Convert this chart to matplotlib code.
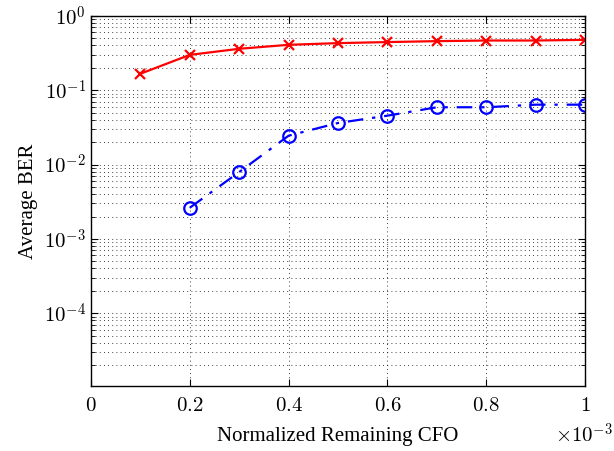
import numpy as np
import matplotlib
matplotlib.use("Agg")
import matplotlib.pyplot as plt
from matplotlib.ticker import FixedLocator, LogLocator, NullFormatter

plt.rcParams["font.family"] = ["Liberation Serif", "DejaVu Serif"]
plt.rcParams["mathtext.fontset"] = "cm"

# data (x in units of 1e-3)
cfo_red = [0.1, 0.2, 0.3, 0.4, 0.5, 0.6, 0.7, 0.8, 0.9, 1.0]
ber_red = [0.166, 0.298, 0.36, 0.407, 0.429, 0.443, 0.456, 0.465, 0.465, 0.475]
cfo_blue = [0.2, 0.3, 0.4, 0.5, 0.6, 0.7, 0.8, 0.9, 1.0]
ber_blue = [0.00262, 0.00792, 0.0244, 0.0362, 0.0454, 0.0589, 0.0589, 0.0638, 0.0638]
xticks = [0, 0.2, 0.4, 0.6, 0.8, 1.0]
xtick_labels = ["$0$", "$0.2$", "$0.4$", "$0.6$", "$0.8$", "$1$"]
yticks = [1e0, 1e-1, 1e-2, 1e-3, 1e-4]
ytick_labels = ["$10^{0}$", "$10^{-1}$", "$10^{-2}$", "$10^{-3}$", "$10^{-4}$"]

fig = plt.figure(figsize=(6.14, 4.51), dpi=100)
ax = fig.add_axes([0.148, 0.144, 0.805, 0.821])

ax.semilogy(cfo_red, ber_red, "-x", color="red", lw=1.6, ms=7, mew=1.6)
ax.semilogy(cfo_blue, ber_blue, "-.o", color="blue", lw=1.6, ms=9, mew=1.6,
            mfc="none", dashes=(7, 4, 1.5, 4))

ax.set_xlim(0, 1)
ax.set_ylim(1.05e-5, 1)
ax.set_xticks(xticks)
ax.set_xticklabels(xtick_labels, fontsize=15)
ax.yaxis.set_major_locator(FixedLocator(yticks))
ax.set_yticklabels(ytick_labels, fontsize=15)
ax.yaxis.set_minor_locator(LogLocator(base=10, subs=np.arange(2, 10)))
ax.yaxis.set_minor_formatter(NullFormatter())

ax.grid(True, which="major", axis="x", color="black", ls=(0, (1, 4)), lw=0.6)
ax.grid(True, which="both", axis="y", color="black", ls=(0, (1, 4)), lw=0.6)
ax.tick_params(which="both", direction="in", top=True, right=True)
ax.tick_params(which="major", length=5)
ax.tick_params(which="minor", length=3)
ax.tick_params(axis="x", pad=8)
for s in ax.spines.values():
    s.set_linewidth(1.0)

ax.set_xlabel("Normalized Remaining CFO", fontsize=15, labelpad=8)
ax.set_ylabel("Average BER", fontsize=15)
fig.text(0.999, 0.033, r"$\times10^{-3}$", fontsize=15, ha="right", va="center")

fig.savefig("out.png", dpi=100)
